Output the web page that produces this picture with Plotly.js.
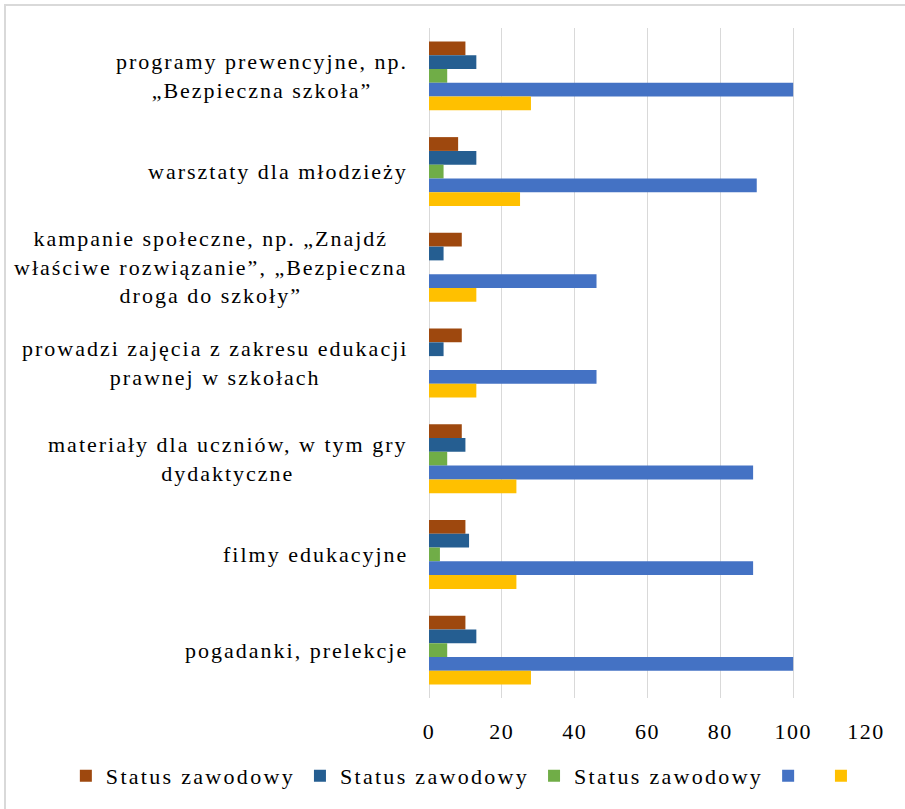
<!DOCTYPE html>
<html>
<head>
<meta charset="utf-8">
<script src="https://cdn.plot.ly/plotly-3.0.1.min.js"></script>
<style>
  html, body { margin: 0; padding: 0; background: #ffffff; }
  #wrap { position: relative; width: 905px; height: 809px; overflow: hidden; }
  #chart { position: absolute; left: 0; top: 0; width: 905px; height: 809px; }
  #frame { position: absolute; left: 4px; top: 4px; width: 960px; height: 900px;
           border-top: 2px solid #d9d9d9; border-left: 2px solid #d9d9d9; pointer-events: none; }
  .annotation-text { letter-spacing: 2px; }
  .legendtext { letter-spacing: 2.3px; }
  .xtick text { letter-spacing: 1.5px; }
</style>
</head>
<body>
<div id="wrap">
  <div id="chart"></div>
  <div id="frame"></div>
</div>
<script>
// Categories, top to bottom
const categories = [
  "programy prewencyjne, np.<br>„Bezpieczna szkoła”",
  "warsztaty dla młodzieży",
  "kampanie społeczne, np. „Znajdź<br>właściwe rozwiązanie”, „Bezpieczna<br>droga do szkoły”",
  "prowadzi zajęcia z zakresu edukacji<br>prawnej w szkołach",
  "materiały dla uczniów, w tym gry<br>dydaktyczne",
  "filmy edukacyjne",
  "pogadanki, prelekcje"
];

const seriesNames = ["Status zawodowy", "Status zawodowy", "Status zawodowy", " ", " "];
const seriesColors = ["#9E480E", "#255E91", "#70AD47", "#4472C4", "#FFC000"];

const brownValues    = [10, 8, 9, 9, 9, 10, 10];
const darkBlueValues = [13, 13, 4, 4, 10, 11, 13];
const greenValues    = [5, 4, 0, 0, 5, 3, 5];
const blueValues     = [100, 90, 46, 46, 89, 89, 100];
const yellowValues   = [28, 25, 13, 13, 24, 24, 28];

const xTicks = [0, 20, 40, 60, 80, 100, 120];

const allValues = [brownValues, darkBlueValues, greenValues, blueValues, yellowValues];
const catIds = categories.map((c, i) => "c" + i);

const traces = allValues.map((vals, i) => ({
  type: "bar",
  orientation: "h",
  x: vals,
  y: catIds,
  name: seriesNames[i],
  marker: { color: seriesColors[i] },
  hoverinfo: "x"
}));

const FONT = "Liberation Serif";

const annotations = categories.map((c, i) => ({
  xref: "paper", yref: "y",
  x: -0.043, y: catIds[i],
  xanchor: "right", yanchor: "middle",
  align: "center",
  text: c,
  showarrow: false,
  font: { family: FONT, size: 22, color: "#000000" }
}));

const layout = {
  width: 905, height: 809,
  font: { family: FONT, size: 22, color: "#000000" },
  margin: { l: 429, r: 39, t: 28, b: 104 },
  paper_bgcolor: "#ffffff",
  plot_bgcolor: "#ffffff",
  barmode: "group",
  bargap: 0.28,
  bargroupgap: 0,
  showlegend: true,
  legend: {
    orientation: "h",
    x: -0.831, xanchor: "left",
    y: -0.085, yanchor: "top",
    font: { family: FONT, size: 22, color: "#000000" },
    traceorder: "normal"
  },
  xaxis: {
    range: [0, 120],
    tickvals: xTicks,
    ticktext: xTicks.map(String),
    showgrid: true,
    gridcolor: "#d9d9d9",
    gridwidth: 1,
    zeroline: true,
    zerolinecolor: "#d9d9d9",
    showline: false,
    ticks: "",
    ticklabelstandoff: 18,
    tickfont: { family: FONT, size: 22, color: "#000000" }
  },
  yaxis: {
    type: "category",
    autorange: "reversed",
    showticklabels: false,
    showgrid: false,
    zeroline: false,
    showline: false,
    ticks: ""
  },
  annotations: annotations
};

Plotly.newPlot("chart", traces, layout, { displayModeBar: false, staticPlot: true });
</script>
</body>
</html>
